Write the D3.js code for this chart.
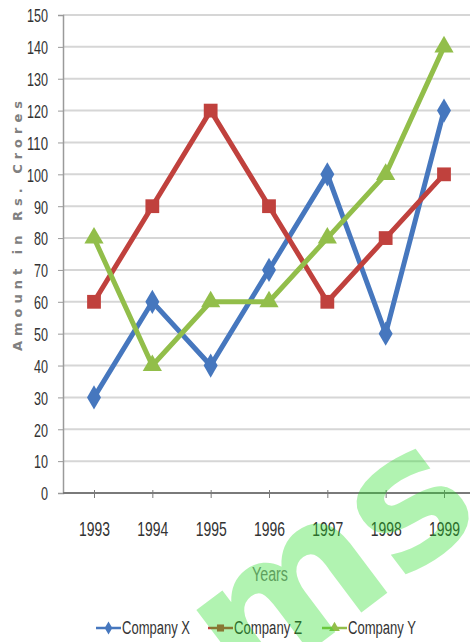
<!DOCTYPE html>
<html><head><meta charset="utf-8">
<script src="https://cdn.jsdelivr.net/npm/d3@7"></script>
<style>body{margin:0;background:#fff;}svg{display:block;}</style>
</head><body>
<script>
const years = ["1993","1994","1995","1996","1997","1998","1999"];
const companyX = [30, 60, 40, 70, 100, 50, 120];
const companyZ = [60, 90, 120, 90, 60, 80, 100];
const companyY = [80, 40, 60, 60, 80, 100, 140];
const yTicks = [0,10,20,30,40,50,60,70,80,90,100,110,120,130,140,150];
const seriesNames = ["Company X","Company Z","Company Y"];

const W = 470, H = 642;
const svg = d3.select("body").append("svg").attr("width", W).attr("height", H);
const font = "'Liberation Sans',Arial,sans-serif";

const x = d3.scalePoint().domain(years).range([94, 444]);
const y = d3.scaleLinear().domain([0,150]).range([493, 15]);
const left = 63, right = 470;

// gridlines
svg.append("g").selectAll("line").data(yTicks.filter(d=>d>0)).join("line")
  .attr("x1", left).attr("x2", right).attr("y1", d=>y(d)).attr("y2", d=>y(d))
  .attr("stroke", "#d6d6d6").attr("stroke-width", 2);

// y axis
const yAxis = svg.append("g").attr("transform", `translate(${left},0)`)
  .call(d3.axisLeft(y).tickValues(yTicks).tickSize(5).tickPadding(10));
yAxis.select(".domain").attr("stroke", "#9a9a9a").attr("stroke-width", 1.5);
yAxis.selectAll(".tick line").attr("stroke", "#9a9a9a");
yAxis.selectAll("text").attr("font-family", font).attr("font-size", 19).attr("fill", "#333")
  .attr("dy", "0.36em")
  .attr("textLength", d => String(d).length * 7).attr("lengthAdjust", "spacingAndGlyphs");

// x axis
const xAxis = svg.append("g").attr("transform", `translate(0,${y(0)})`)
  .call(d3.axisBottom(x).tickSize(6).tickPadding(14));
xAxis.select(".domain").attr("d", `M${left},0H${right}`).attr("stroke", "#7a7a7a").attr("stroke-width", 2);
xAxis.selectAll(".tick line").attr("stroke", "#7a7a7a").attr("y1", -3).attr("y2", 5);
xAxis.selectAll("text").attr("font-family", font).attr("font-size", 21).attr("fill", "#333")
  .attr("y", 43).attr("dy", 0)
  .attr("textLength", 31).attr("lengthAdjust", "spacingAndGlyphs");

// axis titles
svg.append("text").attr("transform", "translate(22,226) rotate(-90)")
  .attr("text-anchor", "middle").attr("font-family", "'DejaVu Sans',sans-serif")
  .attr("font-weight", "bold").attr("font-size", 13)
  .attr("textLength", 250).attr("lengthAdjust", "spacing")
  .attr("fill", "#808080").text("Amount in Rs. Crores");
svg.append("text").attr("x", 270).attr("y", 581).attr("text-anchor", "middle")
  .attr("font-family", font).attr("font-size", 20).attr("fill", "#808080")
  .attr("textLength", 36).attr("lengthAdjust", "spacingAndGlyphs").text("Years");

const series = [
  {name: seriesNames[0], values: companyX, color: "#4677be", shape: d3.symbolDiamond, size: 170},
  {name: seriesNames[1], values: companyZ, color: "#c0413d", shape: d3.symbolSquare, size: 190},
  {name: seriesNames[2], values: companyY, color: "#92be4a", shape: d3.symbolTriangle, size: 160}
];
const line = d3.line().x((d,i)=>x(years[i])).y(d=>y(d));

series.forEach(s => {
  svg.append("path").datum(s.values).attr("d", line).attr("fill", "none")
    .attr("stroke", s.color).attr("stroke-width", 5).attr("stroke-linejoin", "miter");
});
series.forEach(s => {
  svg.append("g").selectAll("path").data(s.values).join("path")
    .attr("transform", (d,i)=>`translate(${x(years[i])},${y(d)})`)
    .attr("d", d3.symbol().type(s.shape).size(s.size)).attr("fill", s.color);
});

// legend
const legX = [96, 208, 322];
series.forEach((s, i) => {
  const g = svg.append("g").attr("transform", `translate(${legX[i]},628)`);
  g.append("line").attr("x1", 0).attr("x2", 25).attr("stroke", s.color).attr("stroke-width", 2.5);
  g.append("path").attr("transform", "translate(12.5,0)")
    .attr("d", d3.symbol().type(s.shape).size(50)).attr("fill", s.color);
  g.append("text").attr("x", 26).attr("y", 6).attr("font-family", font)
    .attr("font-size", 18).attr("fill", "#333")
    .attr("textLength", 68).attr("lengthAdjust", "spacingAndGlyphs").text(s.name);
});

// watermark
svg.append("text").attr("transform", "translate(245,700) rotate(-37)")
  .attr("font-family", "'DejaVu Sans',sans-serif").attr("font-weight", "bold")
  .attr("font-size", 185).attr("fill", "#22dd22").attr("opacity", 0.35)
  .attr("text-anchor", "start").text("ms");
</script>
</body></html>
